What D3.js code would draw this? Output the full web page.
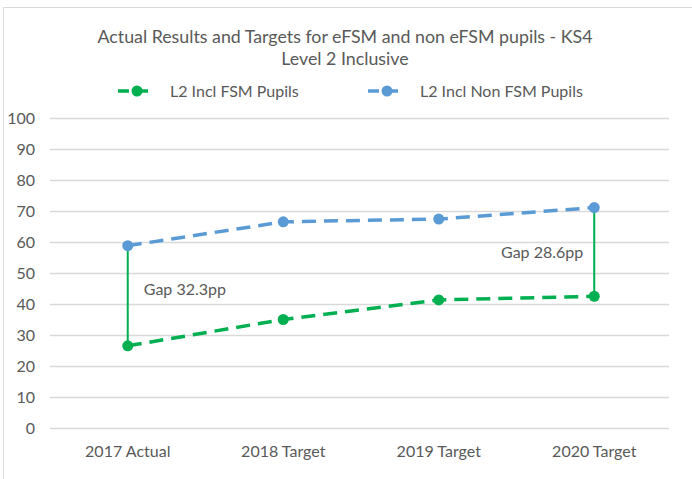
<!DOCTYPE html>
<html>
<head>
<meta charset="utf-8">
<script src="https://cdn.jsdelivr.net/npm/d3@7"></script>
<style>
body { margin: 0; background: #fff; }
text { font-family: Lato, "Open Sans", sans-serif; fill: #595959; }
</style>
</head>
<body>
<div id="chart"></div>
<script>
var categories = ["2017 Actual", "2018 Target", "2019 Target", "2020 Target"];
var fsmValues = [26.5, 35.0, 41.3, 42.5];
var nonFsmValues = [58.8, 66.5, 67.4, 71.1];
var yTicks = [0, 10, 20, 30, 40, 50, 60, 70, 80, 90, 100];
var gapLabels = [
	{cat: "2017 Actual", text: "Gap 32.3pp"},
	{cat: "2020 Target", text: "Gap 28.6pp"}
];
var seriesNames = ["L2 Incl FSM Pupils", "L2 Incl Non FSM Pupils"];

var width = 692, height = 479;
var green = "#00b050", blue = "#5b9bd5";

var svg = d3.select("#chart").append("svg")
	.attr("width", width)
	.attr("height", height);

// chart border (cut off at right/bottom like the original)
svg.append("path")
	.attr("d", "M3.5,479 V7.5 H692")
	.attr("fill", "none")
	.attr("stroke", "#d9d9d9")
	.attr("stroke-width", 1);

var x = d3.scaleBand()
	.domain(categories)
	.range([50, 672]);

var y = d3.scaleLinear()
	.domain([0, 100])
	.range([428, 118]);

// gridlines
svg.append("g")
	.selectAll("line")
	.data(yTicks)
	.join("line")
	.attr("x1", 50)
	.attr("x2", 669)
	.attr("y1", d => Math.round(y(d)) + 0.5)
	.attr("y2", d => Math.round(y(d)) + 0.5)
	.attr("stroke", "#d9d9d9")
	.attr("stroke-width", 1.3);

// y axis
svg.append("g")
	.attr("transform", "translate(35,0)")
	.call(d3.axisLeft(y).tickValues(yTicks).tickSize(0).tickPadding(0))
	.call(g => g.select(".domain").remove())
	.selectAll("text")
	.style("font-size", "16px")
	.attr("fill", "#595959");

// x axis
svg.append("g")
	.attr("transform", "translate(0,440)")
	.call(d3.axisBottom(x).tickSize(0).tickPadding(6))
	.call(g => g.select(".domain").remove())
	.selectAll("text")
	.style("font-size", "16px")
	.attr("fill", "#595959");

var cx = d => x(d) + x.bandwidth() / 2;

// gap lines
svg.append("g")
	.selectAll("line")
	.data(gapLabels)
	.join("line")
	.attr("x1", d => cx(d.cat))
	.attr("x2", d => cx(d.cat))
	.attr("y1", d => y(nonFsmValues[categories.indexOf(d.cat)]))
	.attr("y2", d => y(fsmValues[categories.indexOf(d.cat)]))
	.attr("stroke", green)
	.attr("stroke-width", 2);

var line = d3.line()
	.x((d, i) => cx(categories[i]))
	.y(d => y(d));

var series = [
	{name: seriesNames[0], values: fsmValues, color: green},
	{name: seriesNames[1], values: nonFsmValues, color: blue}
];

series.forEach(s => {
	svg.append("path")
		.datum(s.values)
		.attr("d", line)
		.attr("fill", "none")
		.attr("stroke", s.color)
		.attr("stroke-width", 3.5)
		.attr("stroke-dasharray", "14,8");
	svg.append("g")
		.selectAll("circle")
		.data(s.values)
		.join("circle")
		.attr("cx", (d, i) => cx(categories[i]))
		.attr("cy", d => y(d))
		.attr("r", 5.5)
		.attr("fill", s.color);
});

// gap labels
svg.append("text")
	.attr("x", cx(gapLabels[0].cat) + 16)
	.attr("y", 295)
	.style("font-size", "16px")
	.text(gapLabels[0].text);

svg.append("text")
	.attr("x", cx(gapLabels[1].cat) - 11)
	.attr("y", 258)
	.attr("text-anchor", "end")
	.style("font-size", "16px")
	.text(gapLabels[1].text);

// title
svg.append("text")
	.attr("x", 345)
	.attr("y", 43)
	.attr("text-anchor", "middle")
	.style("font-size", "17.8px")
	.text("Actual Results and Targets for eFSM and non eFSM pupils - KS4");
svg.append("text")
	.attr("x", 345)
	.attr("y", 65)
	.attr("text-anchor", "middle")
	.style("font-size", "17.8px")
	.text("Level 2 Inclusive");

// legend
var legend = svg.append("g")
	.selectAll("g")
	.data(series)
	.join("g")
	.attr("transform", (d, i) => "translate(" + (118 + i * 250) + ",91)");
legend.append("line")
	.attr("x1", 0).attr("x2", 37)
	.attr("stroke", d => d.color)
	.attr("stroke-width", 3.5)
	.attr("stroke-dasharray", "11,8");
legend.append("circle")
	.attr("cx", 19)
	.attr("r", 5.5)
	.attr("fill", d => d.color);
legend.append("text")
	.attr("x", 52)
	.attr("y", 6)
	.style("font-size", "16px")
	.text(d => d.name);
</script>
</body>
</html>
